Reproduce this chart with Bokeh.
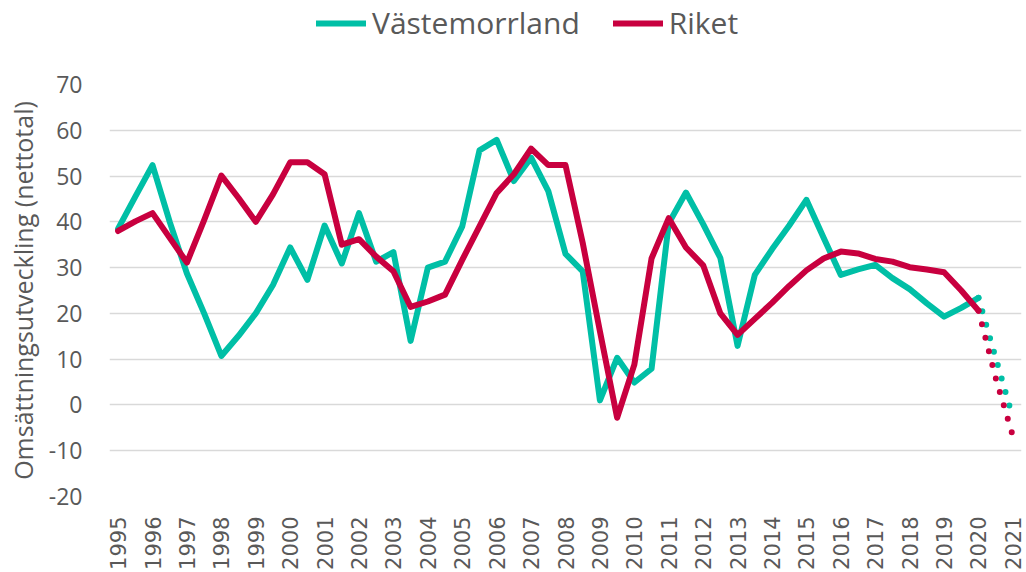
import numpy as np
from bokeh.plotting import figure
from bokeh.layouts import column
from bokeh.models import Range1d, FixedTicker, Legend, LegendItem
from bokeh.embed import file_html
from bokeh.resources import INLINE

# Year tick labels (x axis)
year_labels = ["1995", "1996", "1997", "1998", "1999", "2000", "2001", "2002", "2003",
               "2004", "2005", "2006", "2007", "2008", "2009", "2010", "2011", "2012",
               "2013", "2014", "2015", "2016", "2017", "2018", "2019", "2020", "2021"]
y_ticks = [-20, -10, 0, 10, 20, 30, 40, 50, 60, 70]
y_tick_labels = ["-20", "-10", "0", "10", "20", "30", "40", "50", "60", "70"]
series_names = ["Västemorrland", "Riket"]

# Half-year observations 1995.0 ... 2021.0 (last two are the dotted part)
vastemorrland = [38.5, 45.5, 52.4, 40.0, 28.7, 20.0, 10.7, 15.1, 20.0, 26.2,
                 34.4, 27.3, 39.2, 30.9, 41.9, 31.3, 33.4, 14.0, 30.0, 31.3,
                 39.0, 55.6, 57.9, 48.9, 54.0, 46.7, 33.0, 29.2, 1.0, 10.3,
                 4.9, 7.9, 39.7, 46.4, 39.5, 32.1, 12.9, 28.4, 34.0, 39.2,
                 44.8, 36.5, 28.4, 29.6, 30.6, 27.7, 25.3, 22.2, 19.3, 21.2,
                 23.4, 10.3, -2.8]
riket = [38.0, 40.1, 41.9, 36.5, 31.1, 40.4, 50.1, 45.2, 40.0, 46.0,
         53.0, 53.0, 50.4, 35.0, 36.2, 32.4, 29.2, 21.4, 22.6, 24.1,
         31.7, 39.0, 46.3, 50.4, 56.0, 52.4, 52.4, 35.4, 16.1, -2.8,
         8.8, 32.0, 40.8, 34.4, 30.5, 20.0, 15.3, 18.8, 22.3, 26.0,
         29.4, 32.0, 33.5, 33.1, 31.9, 31.3, 30.1, 29.6, 29.0, 25.0,
         20.6, 5.9, -6.8]
n_solid = 51  # points drawn with a solid line; the rest are dotted

TEAL = "#00BFA6"
RED = "#C8003F"
TXT = "#595959"
FONT = "Open Sans"
LW = 6

x = 1995 + 0.5 * np.arange(len(vastemorrland))
years = [int(s) for s in year_labels]

# ---------------- main chart ----------------
p = figure(width=1026, height=522, output_backend="svg", toolbar_location=None,
           x_range=Range1d(1994.75, 2021.25), y_range=Range1d(-20, 70))
p.min_border_left = 109
p.min_border_right = 5
p.min_border_top = 34
p.min_border_bottom = 74
p.outline_line_color = None

p.xgrid.grid_line_color = None
p.ygrid.grid_line_color = "#D9D9D9"
p.ygrid.grid_line_width = 1.5
p.yaxis.ticker = FixedTicker(ticks=y_ticks)
p.yaxis.major_label_overrides = {t: s for t, s in zip(y_ticks, y_tick_labels)}
p.xaxis.ticker = FixedTicker(ticks=years)
p.xaxis.major_label_overrides = {y: s for y, s in zip(years, year_labels)}

for ax in (p.xaxis[0], p.yaxis[0]):
    ax.axis_line_color = None
    ax.major_tick_line_color = None
    ax.minor_tick_line_color = None
    ax.major_label_text_color = TXT

p.yaxis.major_label_text_font = FONT
p.yaxis.major_label_text_font_size = "23px"
p.yaxis.major_label_standoff = 21
p.yaxis.axis_label = "Omsättningsutveckling (nettotal)"
p.yaxis.axis_label_text_font = FONT
p.yaxis.axis_label_text_font_size = "25px"
p.yaxis.axis_label_text_font_style = "normal"
p.yaxis.axis_label_text_color = TXT
p.yaxis.axis_label_standoff = 6

p.xaxis.major_label_text_font = "DejaVu Sans"
p.xaxis.major_label_text_font_size = "21px"
p.xaxis.major_label_orientation = np.pi / 2
p.xaxis.major_label_standoff = 14

p.line(x[:n_solid], vastemorrland[:n_solid], line_color=TEAL, line_width=LW,
       line_join="round", line_cap="round")
p.line(x[n_solid - 1:], vastemorrland[n_solid - 1:], line_color=TEAL, line_width=LW,
       line_dash="0 14", line_cap="round", line_join="round")
p.line(x[:n_solid], riket[:n_solid], line_color=RED, line_width=LW,
       line_join="round", line_cap="round")
p.line(x[n_solid - 1:], riket[n_solid - 1:], line_color=RED, line_width=LW,
       line_dash="0 14", line_cap="round", line_join="round")

# ---------------- legend strip on top ----------------
# the series are drawn again here but fall outside this strip's ranges; they only feed the legend
lg = figure(width=1026, height=50, output_backend="svg", toolbar_location=None,
            x_axis_type=None, y_axis_type=None, x_range=Range1d(0, 1), y_range=Range1d(0, 1),
            min_border=0, outline_line_color=None)
lg.min_border_left = 109
lg.min_border_right = 5
lg.grid.visible = False
k_teal = lg.line(x, vastemorrland, line_color=TEAL, line_width=LW, line_cap="round")
k_red = lg.line(x, riket, line_color=RED, line_width=LW, line_cap="round")
legend = Legend(items=[LegendItem(label=series_names[0], renderers=[k_teal]),
                       LegendItem(label=series_names[1], renderers=[k_red])],
                orientation="horizontal", location=(207, 7))
legend.label_text_font = FONT
legend.label_text_font_size = "30px"
legend.label_text_color = TXT
legend.glyph_width = 50
legend.glyph_height = 36
legend.label_height = 36
legend.label_standoff = 6
legend.spacing = 33
legend.padding = 0
legend.margin = 0
legend.border_line_color = None
legend.background_fill_alpha = 0
lg.add_layout(legend, "center")

layout = column(lg, p, spacing=0)
open("out.html", "w").write(file_html(layout, INLINE))
